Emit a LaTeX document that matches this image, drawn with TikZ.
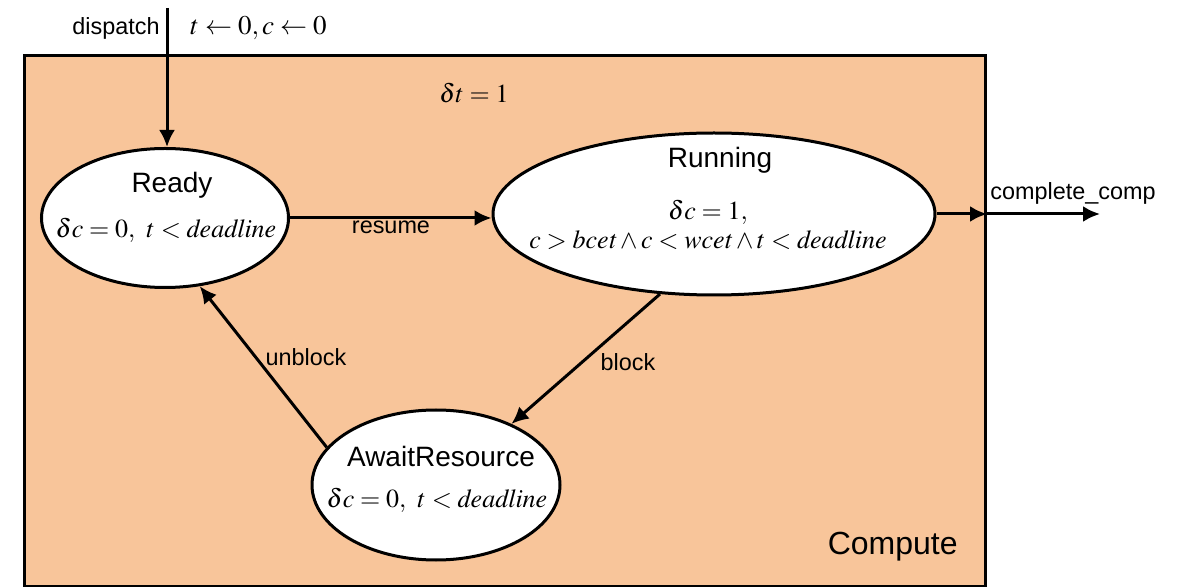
\documentclass[tikz,border=0pt]{standalone}
\usepackage{mathptmx}
\usepackage[no-math]{fontspec}
\setsansfont{Liberation Sans}
\usetikzlibrary{shapes.geometric,arrows.meta}
\definecolor{peach}{HTML}{F8C59A}
\begin{document}
\begin{tikzpicture}[x=0.5pt,y=-0.5pt,
  state/.style={ellipse,draw,line width=1.5pt,fill=white,inner sep=0pt},
  lbl/.style={font=\sffamily\fontsize{11.7}{13}\selectfont,inner sep=0pt},
  ttl/.style={font=\sffamily\fontsize{14}{16}\selectfont,inner sep=0pt},
  mth/.style={font=\fontsize{13}{15}\selectfont,inner sep=0pt},
  conn/.style={line width=1.5pt,-{Latex[length=8.5pt,width=8pt]}}]
\useasboundingbox (0,0) rectangle (1178,587);
\node[draw,line width=1.5pt,fill=peach,minimum width=480.5pt,minimum height=265.5pt,inner sep=0pt,anchor=north west] (box) at (23,54) {};
\node[state,minimum width=123.5pt,minimum height=69.5pt] (ready) at (165,218) {};
\node[state,minimum width=221pt,minimum height=81pt] (running) at (714,214) {};
\node[state,minimum width=124pt,minimum height=75pt] (await) at (436,485) {};
\node[ttl] (readyt) at (172,185) {Ready};
\node[mth] (readym) at (166,230) {$\delta c=0,\ t<\mathit{deadline}$};
\node[ttl] (runt) at (720,160) {Running};
\node[mth] (runm1) at (708,212) {$\delta c=1,$};
\node[mth] (runm2) at (708,240) {$c>\mathit{bcet}\wedge c<\mathit{wcet}\wedge t<\mathit{deadline}$};
\node[ttl] (awaitt) at (441,456) {AwaitResource};
\node[mth] (awaitm) at (437,500) {$\delta c=0,\ t<\mathit{deadline}$};
\node[mth] (dt) at (474,93) {$\delta t=1$};
\node[lbl,anchor=east] (disp) at (160,28) {dispatch};
\node[mth,font=\fontsize{13.5}{15}\selectfont,anchor=west] (init) at (190,28) {$t\leftarrow 0, c\leftarrow 0$};
\node[lbl] (resume) at (391,227) {resume};
\node[lbl] (block) at (628,362) {block};
\node[lbl] (unblock) at (306,357) {unblock};
\node[lbl,anchor=west] (cc) at (990,193) {complete\_comp};
\node[font=\sffamily\fontsize{16}{18}\selectfont,inner sep=0pt,anchor=east] (comp) at (958,547) {Compute};
\coordinate (dtop) at (167,8);
\coordinate (edge) at (box.east |- running.east);
\coordinate (out) at (1100,0 |- running.east);
\draw[conn] (dtop) -- (dtop |- ready.north);
\draw[conn] (ready.east) -- (ready.east -| running.west);
\draw[conn] (running.east) -- (edge);
\draw[conn] (edge) -- (out);
\draw[conn] (running.-124) -- (await.39);
\draw[conn] (await.161) -- (ready.-63);
\end{tikzpicture}
\end{document}
